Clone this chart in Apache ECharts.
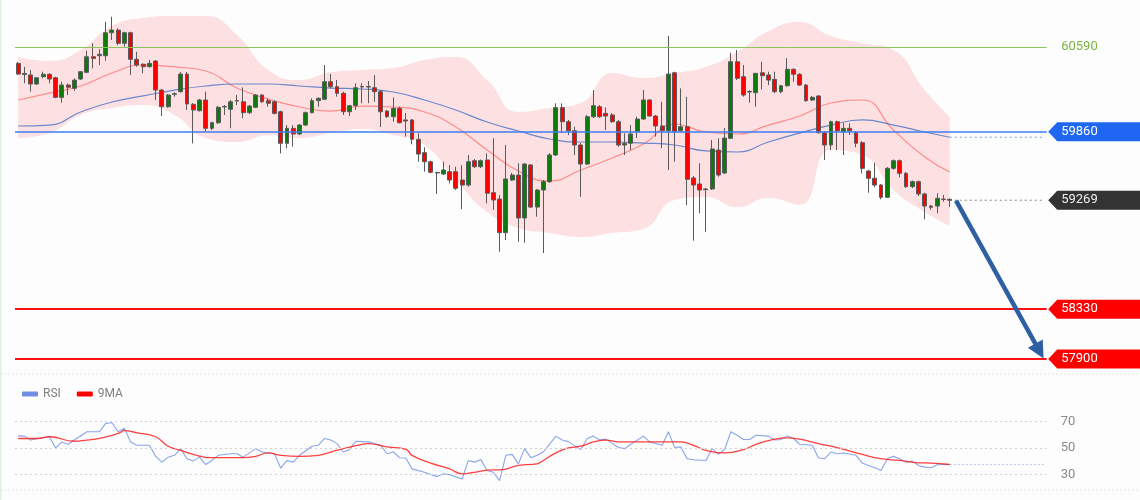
<!DOCTYPE html>
<html><head><meta charset="utf-8">
<script src="https://cdn.jsdelivr.net/npm/echarts@6/dist/echarts.min.js"></script>
<style>html,body{margin:0;padding:0;background:#fdfdfe}#c{width:1140px;height:500px}</style>
</head><body><div id="c"></div>
<script>
// ---------- data: candles [open, close, low, high] ----------
const ohlc = [
[60449,60357,60349,60461],[60362,60353,60277,60420],[60349,60271,60205,60392],[60271,60325,60262,60331],[60334,60355,60320,60377],
[60355,60314,60277,60364],[60325,60156,60148,60334],[60156,60262,60110,60291],[60262,60243,60176,60277],[60234,60305,60213,60320],
[60314,60377,60305,60383],[60372,60506,60364,60558],[60506,60492,60406,60622],[60515,60527,60435,60570],[60515,60713,60472,60808],
[60713,60736,60650,60851],[60736,60622,60607,60751],[60622,60713,60593,60722],[60713,60484,60349,60722],[60484,60435,60420,60549],
[60441,60420,60364,60449],[60420,60449,60415,60478],[60469,60219,60133,60478],[60219,60075,59995,60228],[60075,60176,60067,60185],
[60182,60187,60162,60199],[60205,60357,60196,60375],[60357,60099,60047,60375],[60096,60047,59760,60107],[60041,60133,60034,60142],
[60133,59889,59860,60205],[59889,59937,59874,59946],[59937,60070,59926,60081],[60073,60077,60004,60090],[60053,60118,59889,60133],
[60129,60124,60090,60176],[60118,60024,59976,60242],[60024,60081,60012,60090],[60070,60176,60064,60185],[60176,60118,60107,60185],
[60127,60105,60075,60148],[60118,60018,60008,60129],[60032,59760,59673,60041],[59760,59889,59717,59917],[59889,59840,59730,59917],
[59840,59917,59831,59926],[59917,60024,59909,60034],[60024,60127,60018,60148],[60127,60148,60075,60156],[60139,60291,60133,60435],
[60291,60248,60234,60357],[60248,60191,60162,60305],[60191,60032,60004,60205],[60032,60084,59995,60090],[60084,60239,60047,60277],
[60249,60245,60105,60277],[60245,60249,60105,60297],[60239,60205,60118,60349],[60205,60032,59900,60219],[60038,59989,59978,60047],
[59989,60061,59946,60156],[60061,59937,59932,60075],[59961,59952,59817,60021],[59961,59794,59751,59969],[59794,59667,59601,59846],
[59679,59601,59515,59725],[59601,59510,59501,59610],[59508,59504,59323,59515],[59495,59530,59486,59601],[59515,59443,59415,59572],
[59515,59372,59357,59558],[59443,59400,59193,59572],[59400,59601,59385,59659],[59610,59558,59547,59624],[59558,59610,59547,59620],
[59616,59329,59242,59673],[59334,59271,59185,59803],[59279,58989,58825,59314],[58989,59452,58926,59745],[59443,59486,59435,59504],
[59486,59116,58911,59587],[59116,59581,58903,59590],[59573,59210,59202,59581],[59210,59357,59127,59366],[59357,59429,58814,59443],
[59429,59659,59417,59676],[59659,60067,59650,60104],[60067,59946,59849,60104],[59946,59868,59831,59961],[59868,59745,59659,59903],
[59745,59581,59299,59762],[59581,59989,59573,60004],[59989,60084,59978,60219],[60075,59989,59978,60090],[60018,59995,59874,60070],
[60004,59946,59937,60021],[59946,59745,59730,59961],[59745,59760,59659,59846],[59760,59840,59702,59917],[59860,59969,59805,59989],
[59969,60133,59961,60219],[60133,59995,59987,60142],[59995,59909,59817,60004],[59909,59868,59717,60118],[59868,60357,59530,60685],
[60368,59860,59601,60377],[59868,59903,59860,60234],[59903,59449,59228,60161],[59461,59400,58920,59478],[59409,59357,59156,59587],
[59360,59366,58997,59374],[59366,59711,59357,59788],[59702,59486,59472,59803],[59504,59805,59495,59892],[59803,60463,59797,60541],
[60463,60320,60305,60564],[60334,60176,60162,60435],[60206,60202,60110,60219],[60196,60363,60075,60366],[60368,60343,60225,60463],
[60349,60305,60262,60377],[60311,60205,60191,60377],[60205,60256,60191,60262],[60256,60398,60248,60493],[60398,60355,60291,60406],
[60355,60262,60254,60364],[60262,60127,60118,60271],[60133,60156,60124,60168],[60168,59851,59844,60176],[59851,59745,59616,59866],
[59745,59946,59702,59955],[59946,59868,59702,59955],[59860,59889,59659,59935],[59889,59868,59831,59932],[59851,59760,59725,59866],
[59765,59544,59501,59779],[59521,59458,59334,59530],[59458,59400,59380,59592],[59400,59294,59277,59409],[59294,59544,59288,59555],
[59544,59610,59530,59620],[59610,59501,59467,59620],[59501,59386,59374,59512],[59386,59429,59374,59439],[59429,59323,59305,59439],
[59323,59219,59104,59334],[59219,59208,59185,59228],[59219,59285,59156,59329],[59279,59275,59256,59314],[59277,59269,59210,59284]
];
const padSlots = 15;            // empty future slots on the right
const categories = Array.from({length: ohlc.length + padSlots}, (_, i) => 'P' + (i + 1));

// Bollinger band + moving averages, read at these candle indices
const bandIdx = [0,5,10,15,20,25,30,35,40,45,50,55,60,65,70,75,80,85,90,95,100,105,110,115,120,125,130,135,140,145,149];
const bbUpper = [60504,60469,60564,60771,60840,60857,60857,60693,60392,60305,60374,60392,60409,60478,60504,60305,60030,60064,60107,60366,60323,60366,60418,60547,60728,60806,60685,60624,60564,60219,59986];
const bbLower = [59805,59848,60004,60064,60090,60004,59805,59771,59830,59805,59848,59883,59831,59745,59443,59167,59029,58986,58952,58986,59021,59271,59297,59210,59288,59228,59702,59659,59357,59167,59047];
const bbMid   = [60133,60193,60254,60366,60435,60418,60383,60236,60142,60073,60038,60081,60073,60030,59900,59702,59521,59435,59530,59633,59754,59926,59857,59840,59917,59995,60107,60133,59874,59642,59512];
const maSlow  = [59909,59917,60030,60116,60168,60219,60254,60271,60271,60254,60236,60228,60202,60133,60047,59943,59866,59797,59771,59771,59762,59745,59694,59685,59771,59848,59917,59961,59917,59857,59812];

// price levels
const resistance = 60590;
const pivot = 59860;
const lastPrice = 59269;
const supports = [58330, 57900];
const arrowFrom = [150, 59265];
const arrowTo = [164, 57904];

// RSI panel
const rsiIdx = [0,1,2,3,5,6,7,8,9,11,13,14,15,16,17,18,19,21,22,23,24,25,26,27,28,29,30,31,32,34,35,36,38,39,41,42,43,44,45,47,48,49,50,51,52,53,54,56,58,59,60,61,62,63,65,67,68,69,71,72,73,74,75,76,77,78,79,80,81,82,83,84,86,87,88,90,91,92,93,94,96,97,98,100,101,103,104,105,106,107,108,110,111,112,113,114,115,116,117,118,120,121,122,123,124,125,127,128,129,130,131,132,134,135,136,137,138,139,140,141,142,143,144,145,146,147,148,149];
const rsiVal = [59.2,59,56,57,58.5,50,54.6,52.8,56,62.3,62.3,68.7,69.2,62.3,64.9,54.6,52,52,43.6,39.2,43,44.4,49.5,41.8,40,43,37.4,40.5,44.4,45.6,45.6,43,49.5,46.9,45.6,34.6,40.5,39.2,44.4,51.3,52,57.2,56,53.3,46.9,48.7,55.1,54.6,52,45.6,46.9,42.6,42.3,34.1,31.5,28.2,30.3,29.7,26.4,40.5,39.2,41.3,32.8,31.5,25.1,44.4,45.1,37.9,49.5,42.6,44.4,46.9,59,56,54.8,48.7,57.2,59,56,56.7,50.3,49.5,52.8,59,54.6,52,62.3,50.3,50.8,41.8,41,40.5,49.5,45.1,49,62.3,59.7,56.4,56.4,59.7,59,56,56.4,59.2,57.2,52.8,52,42.6,41.8,46.9,45.6,46.2,44.4,38.5,36.7,34.9,32.8,41.8,43.6,41.8,39.2,40,36.7,35.4,34.9,37.2,37.4,37.4];
const ma9Idx = [0,3,5,9,11,13,16,17,19,22,24,26,28,31,33,36,38,40,42,45,48,50,52,55,56,59,62,63,66,69,71,73,76,77,80,83,84,86,88,90,92,94,96,100,103,106,108,110,113,116,118,121,123,125,128,131,135,138,141,144,146,149];
const ma9Val = [57.2,57.2,58.5,55.1,56,57.2,61,63.1,61.5,58.5,51.3,48.2,45.1,42.6,42.6,42.6,43.6,46.2,44.4,43.6,44.4,46.9,49.5,52.8,53.3,50.8,49,44.4,38.5,34.1,30.3,31.5,33.3,33.3,36.7,37.9,40.5,46.2,50,51.3,54.6,56,54.6,54.6,54.6,54.6,52,48.2,46.2,48.7,52.8,56.7,57.7,56.7,53.3,50.3,45.1,41.8,40.5,38.7,38.5,37.4];
const rsiTicks = [30, 50, 70];

// ---------- helpers ----------
const pairs = (idx, vals) => idx.map((x, k) => [x, vals[k]]);
const lastIdx = ohlc.length - 1;
const endIdx = categories.length - 1;
const FONT = 'Roboto, "Noto Sans", sans-serif';
// the library stacks the band's width on top of the lower edge to fill between them
const bandWidth = bandIdx.map((x, k) => [x, bbUpper[k] - bbLower[k]]);

const tagDefs = [
  {v: pivot, bg: '#1f66f2', fg: '#ffffff'},
  {v: lastPrice, bg: '#333333', fg: '#eeeeee'},
  {v: supports[0], bg: '#ff0000', fg: '#ffffff'},
  {v: supports[1], bg: '#ff0000', fg: '#ffffff'}
];

const chart = echarts.init(document.getElementById('c'), null, {renderer: 'canvas'});
const gridMain = {left: 15, width: 1031.7, top: 4.1, height: 366.5};
const gridRsi = {left: 15, width: 1031.7, top: 408.5, height: 78.9};

chart.setOption({
  animation: false,
  backgroundColor: '#fdfdfe',
  textStyle: {fontFamily: FONT},
  graphic: [
    {type: 'line', shape: {x1: 0, y1: 374, x2: 1140, y2: 374}, style: {stroke: '#e4e8e4', lineWidth: 1, lineDash: [2, 2]}},
    {type: 'line', shape: {x1: 0, y1: 490, x2: 1140, y2: 490}, style: {stroke: '#e4e8e4', lineWidth: 1, lineDash: [2, 2]}},
    {type: 'rect', shape: {x: 0, y: 0, width: 1.5, height: 500}, style: {fill: '#e2f0e2'}}
  ],
  legend: {
    left: 17, top: 383, itemWidth: 16, itemHeight: 5, itemGap: 16, icon: 'roundRect',
    data: [{name: 'RSI', itemStyle: {color: '#6e8fe3'}}, {name: '9MA', itemStyle: {color: '#ff0000'}}],
    textStyle: {color: '#808080', fontSize: 12, fontFamily: FONT}
  },
  grid: [gridMain, gridRsi],
  xAxis: [
    {type: 'category', gridIndex: 0, data: categories, boundaryGap: true, show: false},
    {type: 'category', gridIndex: 1, data: categories, boundaryGap: true, show: false}
  ],
  yAxis: [
    {type: 'value', gridIndex: 0, min: 57800, max: 60960, show: false},
    {type: 'value', gridIndex: 1, min: 20, max: 80, interval: 10, position: 'right',
     axisLine: {show: false}, axisTick: {show: false}, splitLine: {show: false},
     axisLabel: {show: true, margin: 14, color: '#8a8a8a', fontSize: 13, fontFamily: FONT,
                 formatter: v => rsiTicks.indexOf(v) >= 0 ? String(v) : ''}}
  ],
  series: [
    {type: 'line', name: 'bbLow', xAxisIndex: 0, yAxisIndex: 0, data: pairs(bandIdx, bbLower), stack: 'bb',
     smooth: true, symbol: 'none', silent: true, z: 1, lineStyle: {width: 0, opacity: 0}},
    {type: 'line', name: 'bbBand', xAxisIndex: 0, yAxisIndex: 0, data: bandWidth, stack: 'bb',
     smooth: true, symbol: 'none', silent: true, z: 1, lineStyle: {width: 0, opacity: 0},
     areaStyle: {color: 'rgba(255,140,140,0.24)', opacity: 1}},
    {type: 'line', name: 'BBmid', xAxisIndex: 0, yAxisIndex: 0, data: pairs(bandIdx, bbMid), smooth: true,
     symbol: 'none', silent: true, z: 2, lineStyle: {color: 'rgba(255,110,110,0.75)', width: 1.2}},
    {type: 'line', name: 'MAslow', xAxisIndex: 0, yAxisIndex: 0, data: pairs(bandIdx, maSlow), smooth: true,
     symbol: 'none', silent: true, z: 2, lineStyle: {color: 'rgba(80,120,200,0.85)', width: 1.2}},
    {type: 'line', xAxisIndex: 0, yAxisIndex: 0, data: [[lastIdx, maSlow[maSlow.length - 1]], [endIdx, maSlow[maSlow.length - 1]]],
     symbol: 'none', silent: true, z: 2, lineStyle: {color: '#7f9fe0', width: 1, type: [2, 3]}},
    {type: 'line', xAxisIndex: 0, yAxisIndex: 0, data: [[lastIdx, lastPrice], [endIdx, lastPrice]],
     symbol: 'none', silent: true, z: 2, lineStyle: {color: '#888888', width: 1, type: [2, 3]}},
    {
      type: 'candlestick', name: 'price', xAxisIndex: 0, yAxisIndex: 0, data: ohlc, barWidth: 4.4, z: 3,
      itemStyle: {color: '#0e7a0e', color0: '#ff0000', borderColor: '#5a5a5a', borderColor0: '#5a5a5a', borderWidth: 1},
      markLine: {
        symbol: 'none', silent: true, label: {show: false}, animation: false,
        data: [
          {yAxis: pivot, lineStyle: {color: '#3f7cf2', width: 1.5, type: 'solid'}},
          {yAxis: supports[0], lineStyle: {color: '#ff1010', width: 2, type: 'solid'}},
          {yAxis: supports[1], lineStyle: {color: '#ff1010', width: 2, type: 'solid'}}
        ]
      }
    },
    { // resistance level line (separate so its colour is kept)
      type: 'line', xAxisIndex: 0, yAxisIndex: 0, data: [], silent: true, z: 2,
      markLine: {symbol: 'none', silent: true, label: {show: false}, animation: false,
        lineStyle: {color: '#8cc45c', width: 1, type: 'solid', opacity: 1},
        data: [{yAxis: resistance}]}
    },
    { // price tags on the right
      type: 'custom', xAxisIndex: 0, yAxisIndex: 0, silent: true, z: 10,
      data: tagDefs.map(t => [endIdx, t.v]).concat([[endIdx, resistance]]),
      renderItem: (params, api) => {
        const v = api.value(1);
        const p = api.coord([endIdx, v]);
        const x0 = p[0] + api.size([1, 0])[0] / 2 + 1.5;
        const y = p[1];
        const W = api.getWidth();
        const t = tagDefs[params.dataIndex];
        if (!t) {
          return {type: 'text', style: {text: String(v), x: x0 + 13, y: y, fill: '#7cb342', font: '13px ' + FONT, textVerticalAlign: 'middle'}};
        }
        return {type: 'group', children: [
          {type: 'polygon', shape: {points: [[x0, y], [x0 + 9, y - 9.5], [W, y - 9.5], [W, y + 9.5], [x0 + 9, y + 9.5]]}, style: {fill: t.bg}},
          {type: 'text', style: {text: String(v), x: x0 + 13, y: y, fill: t.fg, font: '13px ' + FONT, textVerticalAlign: 'middle'}}
        ]};
      }
    },
    { // projection arrow
      type: 'custom', xAxisIndex: 0, yAxisIndex: 0, silent: true, z: 11,
      data: [arrowFrom],
      renderItem: (params, api) => {
        const a = api.coord(arrowFrom), b = api.coord(arrowTo);
        const dx = b[0] - a[0], dy = b[1] - a[1], len = Math.hypot(dx, dy);
        const ux = dx / len, uy = dy / len, hl = 17, hw = 8.5;
        const bx = b[0] - ux * hl, by = b[1] - uy * hl;
        return {type: 'group', children: [
          {type: 'line', shape: {x1: a[0], y1: a[1], x2: bx + ux * 2, y2: by + uy * 2}, style: {stroke: '#2f5fa3', lineWidth: 4.5}},
          {type: 'polygon', shape: {points: [[b[0], b[1]], [bx - uy * hw, by + ux * hw], [bx + uy * hw, by - ux * hw]]}, style: {fill: '#2f5fa3'}}
        ]};
      }
    },
    // RSI panel
    {type: 'line', name: 'RSI', xAxisIndex: 1, yAxisIndex: 1, data: pairs(rsiIdx, rsiVal), symbol: 'none',
     lineStyle: {color: 'rgba(110,143,227,0.8)', width: 1.1}, z: 3,
     markLine: {symbol: 'none', silent: true, label: {show: false},
       lineStyle: {color: '#cfcfcf', width: 1, type: [2, 3]},
       data: rsiTicks.map(v => ({yAxis: v}))}},
    {type: 'line', name: '9MA', xAxisIndex: 1, yAxisIndex: 1, data: pairs(ma9Idx, ma9Val), symbol: 'none', smooth: true,
     lineStyle: {color: 'rgba(255,30,30,0.85)', width: 1.3}, z: 4},
    {type: 'line', xAxisIndex: 1, yAxisIndex: 1, data: [[lastIdx, rsiVal[rsiVal.length - 1]], [endIdx, rsiVal[rsiVal.length - 1]]],
     symbol: 'none', silent: true, lineStyle: {color: '#b5c4ee', width: 1, type: [2, 2]}, z: 2}
  ]
});
</script></body></html>
